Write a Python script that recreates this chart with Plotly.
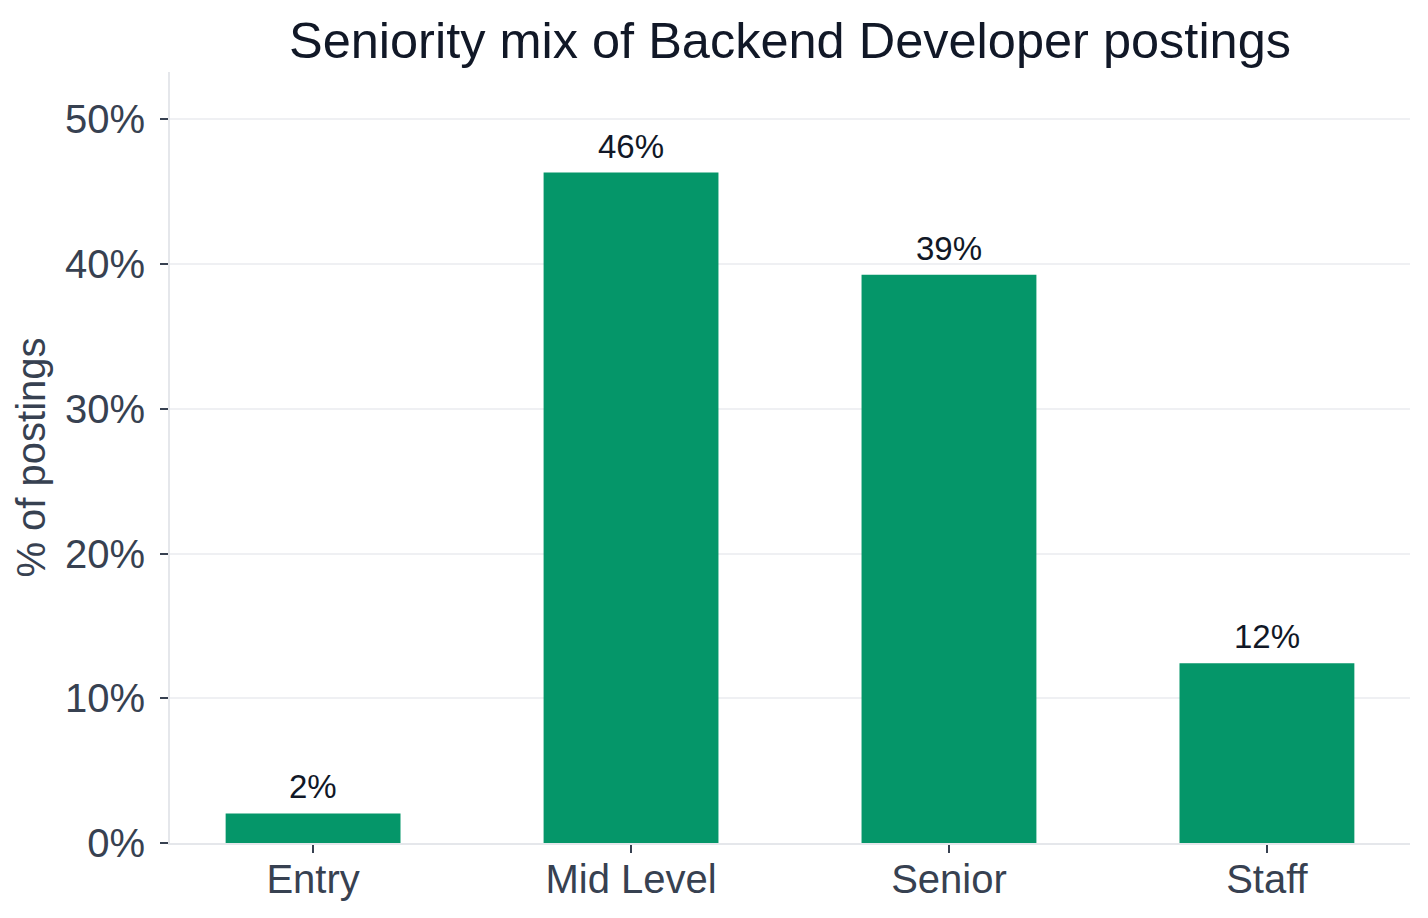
import plotly.graph_objects as go

categories = ["Entry", "Mid Level", "Senior", "Staff"]
shares = [2.04, 46.33, 39.27, 12.42]
ytick_vals = [0, 10, 20, 30, 40, 50]
ytick_text = ["0%", "10%", "20%", "30%", "40%", "50%"]

FONT = "Liberation Sans, Arial, Helvetica, sans-serif"

fig = go.Figure(
    go.Bar(
        x=categories,
        y=shares,
        width=0.55,
        marker=dict(color="#059669", line=dict(width=0)),
        showlegend=False,
        hovertemplate="%{x}: %{y:.1f}%<extra></extra>",
    )
)

for cat, val in zip(categories, shares):
    fig.add_annotation(
        x=cat,
        y=val,
        xref="x",
        yref="y",
        text=f"{val:.0f}%",
        showarrow=False,
        yanchor="bottom",
        yshift=6,
        font=dict(size=33, color="#111827", family=FONT),
    )

fig.update_layout(
    width=1428,
    height=918,
    margin=dict(l=170, r=18, t=72, b=75),
    paper_bgcolor="white",
    plot_bgcolor="white",
    font=dict(family=FONT, color="#374151"),
    title=dict(
        text="Seniority mix of Backend Developer postings",
        font=dict(size=50.5, color="#111827", family=FONT),
        x=0.5,
        xref="paper",
        xanchor="center",
        yref="container",
        y=1 - 40 / 918,
        yanchor="middle",
    ),
)

fig.update_xaxes(
    range=[-0.45, 3.45],
    showline=True,
    linecolor="#e5e7eb",
    linewidth=2,
    ticks="outside",
    ticklen=8,
    tickwidth=2,
    tickcolor="#374151",
    tickfont=dict(size=40, color="#374151"),
    ticklabelstandoff=-8,
    showgrid=False,
    zeroline=False,
)

fig.update_yaxes(
    range=[0, max(shares) * 1.15],
    tickvals=ytick_vals,
    ticktext=ytick_text,
    showline=True,
    linecolor="#e5e7eb",
    linewidth=2,
    ticks="outside",
    ticklen=8,
    tickwidth=2,
    tickcolor="#374151",
    tickfont=dict(size=40, color="#374151"),
    ticklabelstandoff=7,
    showgrid=True,
    gridcolor="#eff0f3",
    gridwidth=2,
    zeroline=False,
    title=dict(text="% of postings", font=dict(size=40, color="#374151"), standoff=7),
)

fig.write_html("out.html")
